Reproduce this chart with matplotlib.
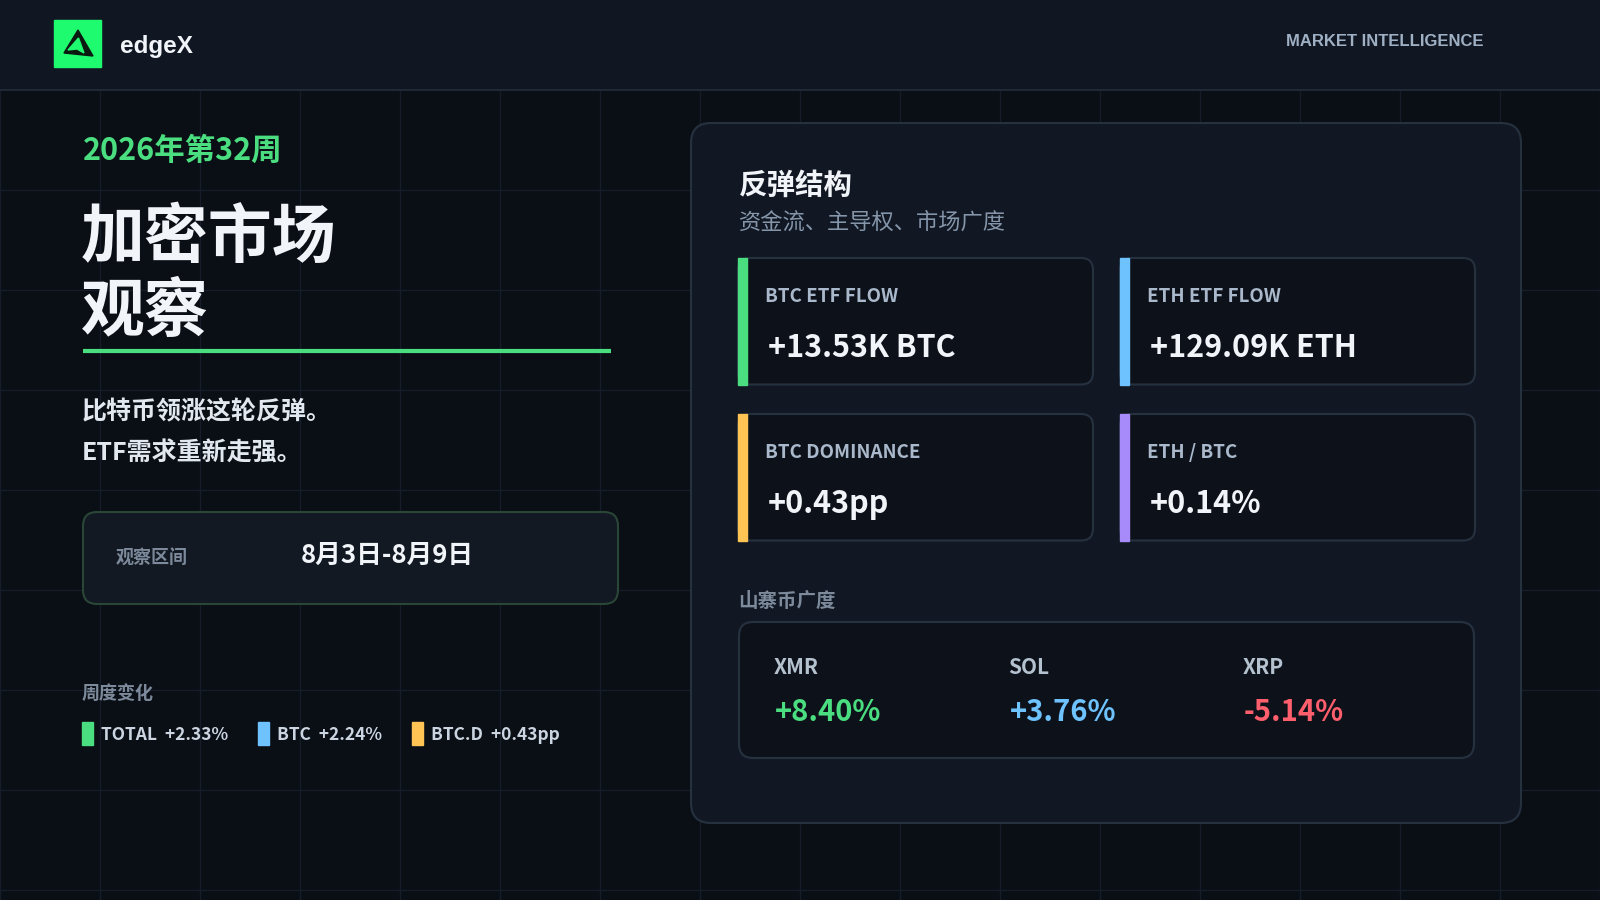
import matplotlib
matplotlib.use("Agg")
import matplotlib.pyplot as plt
from matplotlib.patches import FancyBboxPatch, Rectangle, Polygon
import numpy as np

# ── data ──────────────────────────────────────────────────────────────
BRAND = "edgeX"
TAGLINE = "MARKET INTELLIGENCE"
WEEK = "2026年第32周"
TITLE = ["加密市场", "观察"]
SUMMARY = ["比特币领涨这轮反弹。", "ETF需求重新走强。"]
PERIOD_LABEL = "观察区间"
PERIOD = "8月3日-8月9日"
WEEKLY_LABEL = "周度变化"
weekly_names = ["TOTAL", "BTC", "BTC.D"]
weekly_changes = ["+2.33%", "+2.24%", "+0.43pp"]

PANEL_TITLE = "反弹结构"
PANEL_SUB = "资金流、主导权、市场广度"
metric_labels = ["BTC ETF FLOW", "ETH ETF FLOW", "BTC DOMINANCE", "ETH / BTC"]
metric_values = ["+13.53K BTC", "+129.09K ETH", "+0.43pp", "+0.14%"]

ALT_LABEL = "山寨币广度"
alt_names = ["XMR", "SOL", "XRP"]
alt_changes = [8.40, 3.76, -5.14]

# ── style ─────────────────────────────────────────────────────────────
BG = "#0a0e15"; HEADER = "#111722"; GRIDC = "#151d28"
PANEL = "#111823"; CARD = "#0d121a"; EDGE = "#263140"
GREEN = "#4ade80"; BLUE = "#6ec3ff"; ORANGE = "#ffc453"; PURPLE = "#a78bfa"
RED = "#ff5f6d"; WHITE = "#f1f5f9"; MUTED = "#7d8a9b"; LABEL = "#a9b8cb"
accent = [GREEN, BLUE, ORANGE, PURPLE]
weekly_colors = [GREEN, BLUE, ORANGE]
alt_colors = [GREEN, BLUE, RED]

CJK = ["Noto Sans CJK SC", "DejaVu Sans"]
LAT = ["Liberation Sans", "DejaVu Sans"]
plt.rcParams["font.family"] = CJK

fig = plt.figure(figsize=(16, 9), dpi=100, facecolor=BG)
ax = fig.add_axes([0, 0, 1, 1])
ax.set_xlim(0, 1600)
ax.set_ylim(900, 0)
ax.axis("off")
ax.add_patch(Rectangle((0, 0), 1600, 900, color=BG, zorder=0))

DY = 3  # text baseline nudge


def rbox(x0, y0, x1, y1, r, fc, ec, lw=1.5, z=2):
    ax.add_patch(FancyBboxPatch((x0, y0), x1 - x0, y1 - y0,
                                boxstyle=f"round,pad=0,rounding_size={r}",
                                fc=fc, ec=ec, lw=lw, zorder=z))


def txt(x, y, s, size, color, weight="bold", ha="left", family=CJK, z=5):
    return ax.text(x, y + DY, s, fontsize=size, color=color, fontweight=weight,
                   ha=ha, va="center", family=family, zorder=z)


# background grid
for gx in np.arange(0, 1601, 100):
    ax.plot([gx, gx], [90, 900], color=GRIDC, lw=1, zorder=1)
for gy in np.arange(190, 900, 100):
    ax.plot([0, 1600], [gy, gy], color=GRIDC, lw=1, zorder=1)

# header
ax.add_patch(Rectangle((0, 0), 1600, 90, color=HEADER, zorder=3))
ax.plot([0, 1600], [90, 90], color="#1f2935", lw=1.5, zorder=3)
ax.add_patch(Rectangle((54, 20), 47, 47, color="#1ffb6f", zorder=4))
ax.add_patch(Polygon([(78, 30), (64, 53), (93, 56)], closed=True,
                     color="#0b1a10", zorder=5))
ax.add_patch(Polygon([(78.5, 38), (68, 50), (77, 49), (84, 53)], closed=True,
                     color="#1ffb6f", zorder=6))
txt(120, 43, BRAND, 17.5, WHITE, family=LAT)
txt(1483, 39, TAGLINE, 12, "#9fb0c4", ha="right", family=LAT)

# left column
txt(83, 148, WEEK, 22, GREEN)
for i, line in enumerate(TITLE):
    txt(81, 235 + i * 74, line, 46, WHITE, weight=900)
ax.plot([83, 611], [351, 351], color=GREEN, lw=3, solid_capstyle="butt", zorder=4)
for i, line in enumerate(SUMMARY):
    txt(82, 409 + i * 42, line, 18, "#e2e8f0")

rbox(83, 512, 618, 604, 14, "#121922", "#2a4636")
txt(116, 555, PERIOD_LABEL, 13, MUTED)
txt(301, 552, PERIOD, 18.5, WHITE)

txt(82, 690, WEEKLY_LABEL, 13, MUTED)
fig.canvas.draw()
renderer = fig.canvas.get_renderer()
inv = ax.transData.inverted()
cx = 82
for name, chg, col in zip(weekly_names, weekly_changes, weekly_colors):
    ax.add_patch(Rectangle((cx, 722), 11, 23, color=col, zorder=4))
    t = txt(cx + 19, 732, f"{name}  {chg}", 12.5, "#cbd5e1")
    bb = t.get_window_extent(renderer)
    x_end = inv.transform((bb.x1, bb.y1))[0]
    cx = x_end + 30

# right panel
rbox(691, 123, 1521, 823, 20, PANEL, EDGE)
txt(739, 183, PANEL_TITLE, 20.5, WHITE)
txt(739, 219, PANEL_SUB, 16, "#8595aa", weight="normal")

card_x = [738, 1120]
card_y = [258, 414]
card_w, card_h = 355, 126.5
for k, (lab, val) in enumerate(zip(metric_labels, metric_values)):
    x0 = card_x[k % 2]
    y0 = card_y[k // 2]
    rbox(x0, y0, x0 + card_w, y0 + card_h, 12, CARD, EDGE, z=3)
    ax.add_patch(Rectangle((x0, y0), 9, card_h, color=accent[k], zorder=4))
    txt(x0 + 27, y0 + 35, lab, 13.5, LABEL)
    txt(x0 + 30, y0 + 87, val, 22, WHITE)

txt(738, 598, ALT_LABEL, 14, MUTED)
rbox(739, 622, 1474, 758, 14, CARD, EDGE, z=3)
for i, (nm, v, col) in enumerate(zip(alt_names, alt_changes, alt_colors)):
    x0 = 774 + i * 234.5
    txt(x0, 664, nm, 15, "#b4c1cf")
    txt(x0 + 1, 709, f"{v:+.2f}%", 21, col)

fig.savefig("out.png", dpi=100, facecolor=BG)
